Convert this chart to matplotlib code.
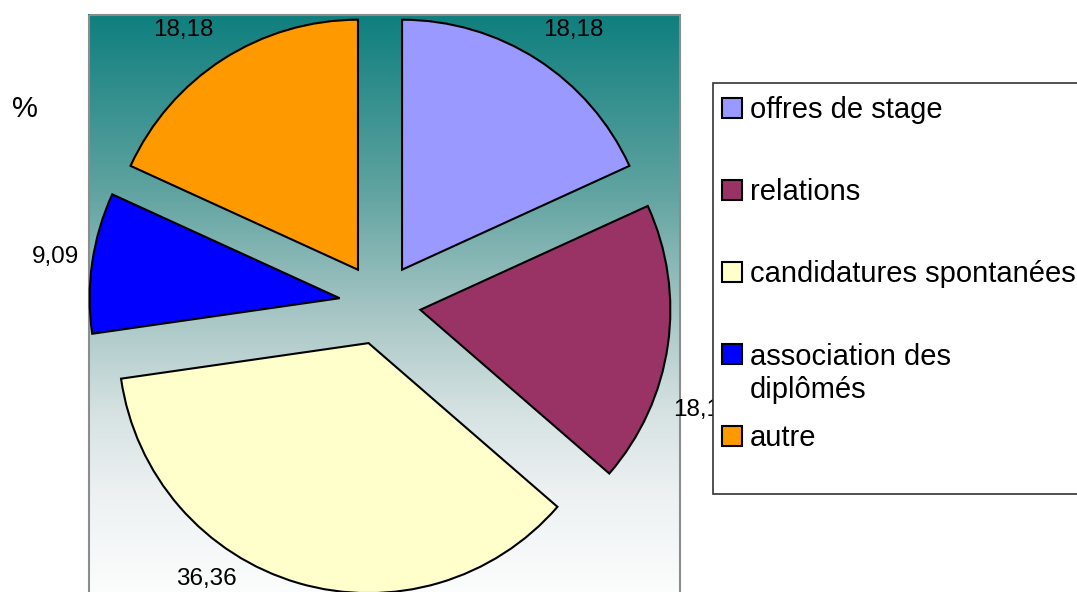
import numpy as np
import matplotlib.pyplot as plt
from matplotlib.colors import LinearSegmentedColormap
from matplotlib.patches import Rectangle

plt.rcParams['font.family'] = ['Liberation Sans', 'DejaVu Sans']

# Répartition des moyens d'obtention du stage (%)
categories = ['offres de stage', 'relations', 'candidatures spontanées',
              'association des\ndiplômés', 'autre']
shares = [18.18, 18.18, 36.36, 9.09, 18.18]
colors = ['#9999ff', '#993366', '#ffffcc', '#0000ff', '#ff9900']

W, H = 1077, 592
fig = plt.figure(figsize=(W / 100, H / 100), dpi=100)

# background layer, pixel units with y pointing down
bg = fig.add_axes([0, 0, 1, 1])
bg.axis('off')

# plot area filled with a teal -> white vertical gradient
stops = [(0.0, '#0e7f7e'), (0.3, '#5fa3a0'), (0.5, '#a3c4c3'),
         (0.68, '#d6e2e2'), (0.82, '#edf1f2'), (1.0, '#fdfefe')]
cmap = LinearSegmentedColormap.from_list('plotarea', stops)
grad = np.linspace(0, 1, 256).reshape(-1, 1)
bg.imshow(grad, cmap=cmap, extent=(88, 680, 600, 14), aspect='auto', zorder=0)
bg.add_patch(Rectangle((88.5, 14.5), 591, 600, fill=False,
                       edgecolor='#8c8c8c', lw=1.5, zorder=1))
bg.set_xlim(0, W)
bg.set_ylim(H, 0)

# exploded pie, radius 1 = 250 px, centred at (380, 304) px
R = 250.0
cx, cy = 380, 304
ax = fig.add_axes([0, 0, 1, 1])
ax.set_facecolor('none')
wedges, _ = ax.pie(shares, colors=colors, startangle=90, counterclock=False,
                   explode=[0.163] * len(shares),
                   wedgeprops=dict(edgecolor='black', linewidth=1.5))
ax.set_xlim(-cx / R, (W - cx) / R)
ax.set_ylim(-(H - cy) / R, cy / R)
ax.set_aspect('auto')
ax.axis('off')

# value labels, nudged (degrees) around the mid angle of each slice
nudge = [-2.5, -10, -16, 0, 3]
dist = [1.34, 1.36, 1.30, 1.31, 1.35]
for w, v, dn, d in zip(wedges, shares, nudge, dist):
    ang = np.deg2rad((w.theta1 + w.theta2) / 2 + dn)
    ax.text(d * np.cos(ang), d * np.sin(ang),
            f'{v:.2f}'.replace('.', ','), ha='center', va='center',
            fontsize=17.5)

# legend box on top of everything
lg = fig.add_axes([0, 0, 1, 1])
lg.set_facecolor('none')
lg.set_xlim(0, W)
lg.set_ylim(H, 0)
lg.axis('off')
lg.add_patch(Rectangle((712.5, 82.5), 400, 411, facecolor='white',
                       edgecolor='#333333', lw=1.2))
for i, (name, col) in enumerate(zip(categories, colors)):
    yc = 108 + 82 * i
    lg.add_patch(Rectangle((722, yc - 10), 20, 20, facecolor=col,
                           edgecolor='black', lw=1.5))
    # baseline of a multi-line label is its last line
    lg.text(750, yc + 9.5 + 35 * name.count('\n'), name, fontsize=21,
            ha='left', va='baseline', linespacing=1.27)

lg.text(25, 109, '%', fontsize=21, ha='center', va='center')

fig.savefig('out.png', dpi=100)
